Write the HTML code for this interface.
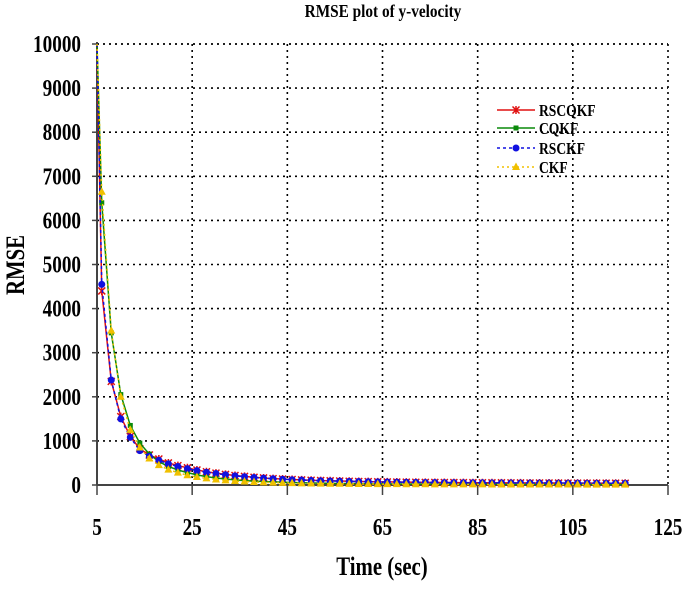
<!DOCTYPE html>
<html><head><meta charset="utf-8"><style>
body{margin:0;background:#fff;}
svg text{font-family:"Liberation Serif",serif;font-weight:bold;}
</style></head><body>
<svg id="chart" width="685" height="584" xmlns="http://www.w3.org/2000/svg">
<text x="0" y="0" font-size="18" text-anchor="middle" transform="translate(383,17) scale(0.85,1)">RMSE plot of y-velocity</text>
<g id="grid"></g><g id="axes"></g><g id="series"></g>
<text x="0" y="0" font-size="26" text-anchor="middle" transform="translate(382,575) scale(0.8,1)">Time (sec)</text>
<text x="0" y="0" font-size="26" text-anchor="middle" transform="translate(24,265) rotate(-90) scale(0.8,1)">RMSE</text>
<g id="legend"></g>
</svg>
<script>
const times=[5,6,8,10,12,14,16,18,20,22,24,26,28,30,32,34,36,38,40,42,44,46,48,50,52,54,56,58,60,62,64,66,68,70,72,74,76,78,80,82,84,86,88,90,92,94,96,98,100,102,104,106,108,110,112,114,116];
const rscqkf=[10000,4400,2350,1550,1100,820,680,590,500,440,390,340,300,270,240,215,195,175,160,145,135,125,115,108,100,95,90,85,80,76,72,70,67,64,62,60,58,56,55,54,52,51,50,49,48,47,46,45,45,44,43,43,42,42,41,41,40];
const cqkf=[10000,6400,3450,2050,1350,950,700,530,420,340,280,230,190,160,135,115,100,88,78,70,62,56,50,46,42,38,35,32,30,28,26,25,24,23,22,21,20,19,18,18,17,17,16,16,15,15,14,14,14,13,13,13,12,12,12,12,11];
const rsckf=[10000,4550,2380,1500,1080,780,650,560,480,420,370,325,290,260,232,208,188,170,155,142,130,120,112,104,97,92,87,82,78,74,70,68,65,62,60,58,56,55,53,52,51,50,49,48,47,46,45,44,44,43,42,42,41,41,40,40,40];
const ckf=[10000,6650,3500,2000,1250,850,600,450,350,280,220,180,150,125,105,90,78,68,60,53,47,42,38,35,32,29,27,25,23,22,21,20,19,18,17,16,15,15,14,14,13,13,12,12,12,11,11,11,10,10,10,10,9,9,9,9,9];
const xTicks=[5,25,45,65,85,105,125];
const yTicks=[0,1000,2000,3000,4000,5000,6000,7000,8000,9000,10000];
const seriesNames=["RSCQKF","CQKF","RSCKF","CKF"];

const NS="http://www.w3.org/2000/svg";
const X0=97,X1=668,Y0=485,Y1=44;
function xs(v){return X0+(v-5)/(125-5)*(X1-X0);}
function ys(v){return Y0-(v/10000)*(Y0-Y1);}
function mk(tag,attrs,parent){const e=document.createElementNS(NS,tag);for(const k in attrs)e.setAttribute(k,attrs[k]);parent.appendChild(e);return e;}
const grid=document.getElementById('grid'),axes=document.getElementById('axes'),ser=document.getElementById('series'),leg=document.getElementById('legend');

yTicks.forEach(v=>{
  if(v>0){const l=mk('line',{x1:X0,x2:X1,y1:ys(v),y2:ys(v),stroke:'#000','stroke-width':1.6,'stroke-dasharray':'2,4'},grid);
  
  }
  const t=mk('line',{x1:X0-5,x2:X0,y1:ys(v),y2:ys(v),stroke:'#444','stroke-width':1.5},axes);
  
  
  const tx=mk('text',{x:0,y:0,'font-size':24,'text-anchor':'end',transform:`translate(81,${ys(v)+8}) scale(0.8,1)`},axes);
  tx.textContent=v;
  
  
});
xTicks.forEach(v=>{
  if(v>5){const l=mk('line',{x1:xs(v),x2:xs(v),y1:Y1,y2:Y0,stroke:'#000','stroke-width':1.6,'stroke-dasharray':'2,4'},grid);
  
  }
  const t=mk('line',{x1:xs(v),x2:xs(v),y1:Y0,y2:Y0+10,stroke:'#444','stroke-width':1.5},axes);
  
  
  const tx=mk('text',{x:0,y:0,'font-size':24,'text-anchor':'middle',transform:`translate(${xs(v)},535) scale(0.8,1)`},axes);
  tx.textContent=v;
  
  
});
const topl=mk('line',{x1:X0,x2:X1,y1:Y1,y2:Y1,stroke:'#000','stroke-width':1.6,'stroke-dasharray':'2,4'},grid);


const xa=mk('line',{x1:X0,x2:X1,y1:Y0,y2:Y0,stroke:'#444','stroke-width':2},axes);


const ya=mk('line',{x1:X0,x2:X0,y1:Y1-2,y2:Y0,stroke:'#444','stroke-width':2},axes);



function marker(kind,x,y,c,g){
  if(kind==='star'){return mk('path',{d:`M${x-3.5} ${y-3.5}L${x+3.5} ${y+3.5}M${x+3.5} ${y-3.5}L${x-3.5} ${y+3.5}M${x} ${y-4}L${x} ${y+4}`,stroke:c,'stroke-width':1.5},g);}
  if(kind==='sq'){return mk('rect',{x:x-2.5,y:y-2.5,width:5,height:5,fill:c},g);}
  if(kind==='dot'){return mk('circle',{cx:x,cy:y,r:3.5,fill:c},g);}
  return mk('polygon',{points:`${x},${y-4.5} ${x+4},${y+3} ${x-4},${y+3}`,fill:c},g);
}
const defs=[[rscqkf,'#e01010','star',''],[cqkf,'#0a8a0a','sq',''],[rsckf,'#1010e0','dot','3,3'],[ckf,'#f0c000','tri','2,3']];
const legY=[110,128,148,167];
defs.forEach((d,i)=>{
  const g=mk('g',{},ser);
  
  
  const pts=d[0].map((v,j)=>xs(times[j])+','+ys(v)).join(' ');
  const pl=mk('polyline',{points:pts,fill:'none',stroke:d[1],'stroke-width':1.5,'stroke-dasharray':d[3]},g);
  
  
  d[0].forEach((v,j)=>{if(j===0)return;const m=marker(d[2],xs(times[j]),ys(v),d[1],g);
    
    });
  const ly=legY[i];
  const le=mk('g',{},leg);
  
  
  mk('line',{x1:497,x2:535,y1:ly,y2:ly,stroke:d[1],'stroke-width':1.5,'stroke-dasharray':d[3]},le);
  marker(d[2],516,ly,d[1],le);
  const t=mk('text',{x:0,y:0,'font-size':17,transform:`translate(539,${ly+6}) scale(0.8,1)`},le);
  t.textContent=seriesNames[i];
});
</script>
</body></html>
